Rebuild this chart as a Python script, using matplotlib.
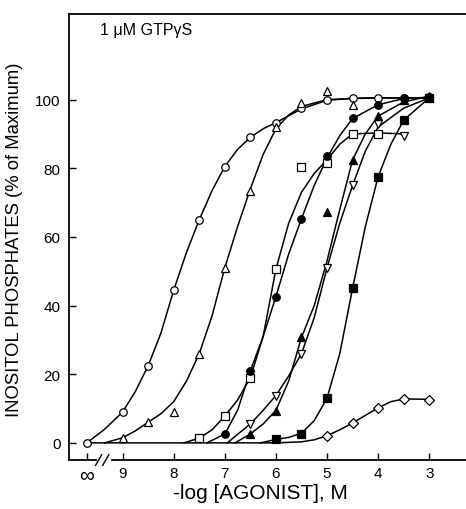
import matplotlib
matplotlib.use('Agg')
import matplotlib.pyplot as plt

# dose-response curves, x = -log[agonist] (M), ∞ drawn at 9.7 (no agonist)
plt.rcParams['font.family'] = ['Liberation Sans', 'DejaVu Sans']

INF = 9.7
xticks = [INF, 9, 8, 7, 6, 5, 4, 3]
xticklabels = ['∞', '9', '8', '7', '6', '5', '4', '3']
yticks = [0, 20, 40, 60, 80, 100]

# measured points
circ_x = [INF, 9, 8.5, 8, 7.5, 7, 6.5, 6, 5.5, 5, 4.5, 4, 3.5, 3]
circ_y = [0, 9, 22.5, 44.5, 65, 80.5, 89, 93.3, 97.5, 99.8, 100.5, 100.5, 100.5, 100.7]
tri_x = [9, 8.5, 8, 7.5, 7, 6.5, 6, 5.5, 5, 4.5]
tri_y = [1.5, 6, 9, 26, 51, 73.5, 92, 99, 102.5, 98.5]
sq_x = [7.5, 7, 6.5, 6, 5.5, 5, 4.5, 4]
sq_y = [1.4, 7.8, 19, 50.6, 80.4, 81.4, 90.1, 90.1]
fcirc_x = [7, 6.5, 6, 5.5, 5, 4.5, 4, 3.5, 3]
fcirc_y = [2.6, 21, 42.6, 65.3, 83.5, 94.7, 98.5, 100.5, 100.7]
itri_x = [6.5, 6, 5.5, 5, 4.5, 4, 3.5]
itri_y = [5.5, 13.8, 26, 51, 75, 93, 89.5]
ftri_x = [6.5, 6, 5.5, 5, 4.5, 4, 3.5, 3]
ftri_y = [2.6, 9.4, 30.7, 67.4, 82.4, 95.2, 100, 101]
fsq_x = [6, 5.5, 5, 4.5, 4, 3.5, 3]
fsq_y = [1.0, 2.6, 13.1, 45.2, 77.5, 94.2, 100.5]
dia_x = [5, 4.5, 4, 3.5, 3]
dia_y = [2.1, 5.8, 10.2, 12.8, 12.6]

# hand-drawn fitted curves
circ_fx = [INF, 9.35, 9, 8.75, 8.5, 8.25, 8, 7.75, 7.5, 7.25, 7, 6.75, 6.5, 6.25, 6, 5.5, 5, 4.5, 4, 3.5, 3]
circ_fy = [0, 4, 9, 15, 22.5, 32, 44.5, 55.5, 65, 73.5, 80.5, 85.5, 89, 91.5, 93.3, 97.3, 99.8, 100.4, 100.5, 100.5, 100.5]
tri_fx = [9.35, 9, 8.75, 8.5, 8.25, 8, 7.75, 7.5, 7.25, 7, 6.75, 6.5, 6.25, 6, 5.75, 5.5, 5, 4.5, 4, 3.5, 3]
tri_fy = [0, 1.5, 3.5, 6, 8.5, 12, 18, 26, 37, 51, 63, 74, 84, 91.5, 95.5, 98, 100, 100.3, 100.5, 100.5, 100.5]
sq_fx = [7.8, 7.5, 7.25, 7, 6.75, 6.5, 6.25, 6, 5.75, 5.5, 5.25, 5, 4.75, 4.5, 4, 3.5]
sq_fy = [0, 1.4, 3.8, 7.8, 12.5, 19, 31, 50.6, 64, 73, 78.5, 82.5, 87, 90, 90.3, 90]
fcirc_fx = [7.35, 7, 6.75, 6.5, 6.25, 6, 5.75, 5.5, 5.25, 5, 4.75, 4.5, 4, 3.5, 3]
fcirc_fy = [0, 2.6, 9.5, 21, 31, 42.6, 55, 65.3, 75, 83, 89.5, 94.5, 98.5, 100.3, 100.7]
itri_fx = [6.95, 6.75, 6.5, 6.25, 6, 5.75, 5.5, 5.25, 5, 4.75, 4.5, 4.25, 4, 3.5, 3]
itri_fy = [0, 2.5, 5.5, 9.5, 13.8, 19.5, 26, 36.5, 51, 64, 75, 85, 92, 97.5, 100.5]
ftri_fx = [6.8, 6.5, 6.25, 6, 5.75, 5.5, 5.25, 5, 4.75, 4.5, 4.25, 4, 3.5, 3]
ftri_fy = [0, 2.6, 5.5, 9.5, 18, 30.7, 40, 53, 68, 82.4, 90, 95.2, 99.3, 101]
fsq_fx = [6.3, 6, 5.75, 5.5, 5.25, 5, 4.75, 4.5, 4.25, 4, 3.75, 3.5, 3]
fsq_fy = [0, 1.0, 1.6, 2.8, 6.5, 13, 26, 45, 63, 77.5, 87, 94, 100.5]
dia_fx = [INF, 6, 5.5, 5.25, 5, 4.75, 4.5, 4.25, 4, 3.75, 3.5, 3]
dia_fy = [0, 0, 0.3, 0.9, 2.1, 3.8, 5.8, 8, 10.2, 12, 12.8, 12.7]

fig = plt.figure(figsize=(4.66, 5.10), dpi=100)
ax = fig.add_axes([0.148, 0.096, 0.852, 0.875])

for fx, fy in [(circ_fx, circ_fy), (tri_fx, tri_fy), (sq_fx, sq_fy), (fcirc_fx, fcirc_fy),
               (itri_fx, itri_fy), (ftri_fx, ftri_fy), (fsq_fx, fsq_fy), (dia_fx, dia_fy)]:
    ax.plot(fx, fy, color='black', lw=1.1, zorder=2)

ms = 5.4
series = [(circ_x, circ_y, 'o', 'white'), (tri_x, tri_y, '^', 'white'),
          (sq_x, sq_y, 's', 'white'), (itri_x, itri_y, 'v', 'white'),
          (dia_x, dia_y, 'D', 'white'), (fcirc_x, fcirc_y, 'o', 'black'),
          (ftri_x, ftri_y, '^', 'black'), (fsq_x, fsq_y, 's', 'black')]
for x, y, m, fc in series:
    size = ms * 0.95 if m == 'D' else ms
    ax.plot(x, y, ls='none', marker=m, ms=size, mfc=fc, mec='black', mew=0.9, zorder=3)

ax.set_xlim(10.05, 2.28)
ax.set_ylim(-5, 125)
ax.set_xticks(xticks)
ax.set_xticklabels(xticklabels)
ax.set_yticks(yticks)
ax.tick_params(direction='in', length=5, width=1, labelsize=11)
ax.tick_params(axis='x', pad=4)
ax.tick_params(axis='y', pad=6)
ax.get_xticklabels()[0].set_fontsize(15)
ax.spines['right'].set_visible(False)
for s in ['left', 'bottom', 'top']:
    ax.spines[s].set_linewidth(1.3)

# axis break marks on the x axis
trans = ax.get_xaxis_transform()
ax.plot([9.47, 9.27], [0, 0], transform=trans, color='white', lw=3, clip_on=False, zorder=5)
for xb in [9.47, 9.33]:
    ax.plot([xb + 0.06, xb - 0.06], [-0.012, 0.012], transform=trans,
            color='black', lw=1, clip_on=False, zorder=6)

ax.text(9.45, 120.5, '1 μM GTPγS', fontsize=11.5, va='center', ha='left')

fig.text(260 / 466, 1 - 494 / 510, '-log [AGONIST], M', fontsize=15,
         ha='center', va='center')
fig.text(15 / 466, 1 - 240 / 510, 'INOSITOL PHOSPHATES (% of Maximum)', fontsize=13.3,
         rotation=90, ha='center', va='center')

fig.savefig('out.png', dpi=100)
